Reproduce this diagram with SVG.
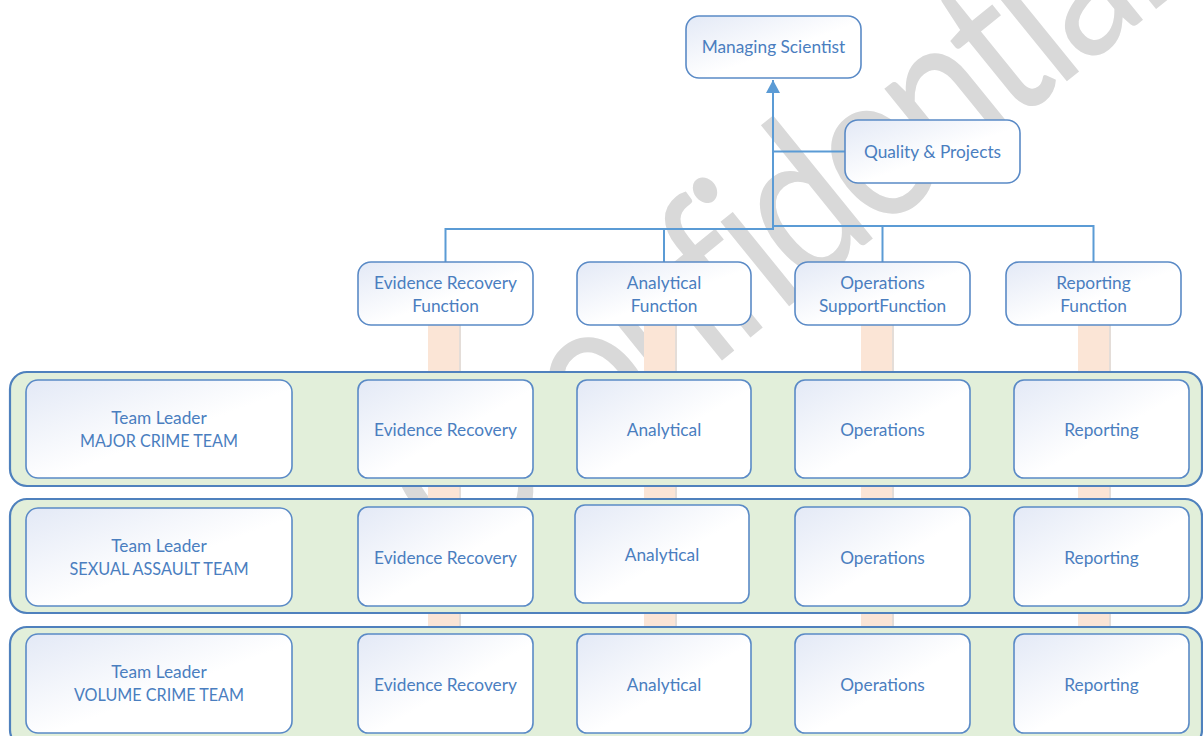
<svg xmlns="http://www.w3.org/2000/svg" width="1203" height="736" viewBox="0 0 1203 736">
<defs>
<linearGradient id="boxfill" x1="0" y1="0" x2="1" y2="1">
<stop offset="0" stop-color="#e3e9f6"/>
<stop offset="0.55" stop-color="#ffffff"/>
<stop offset="1" stop-color="#ffffff"/>
</linearGradient>
<marker id="arrow" markerWidth="14" markerHeight="14" refX="13" refY="7" orient="auto" markerUnits="userSpaceOnUse" viewBox="0 0 14 14">
<path d="M0,0 L13,7 L0,14 Z" fill="#5b9bd5"/>
</marker>
<style>
.box{fill:url(#boxfill);stroke:#5a8ac6;stroke-width:1.6}
.band{fill:#e2efda;stroke:#4f81bd;stroke-width:2.2}
.bar{fill:#fbe5d6}
.barsh{fill:#e4ddd8}
.lbl{font-family:Lato,"Open Sans","Liberation Sans",sans-serif;font-size:17.3px;fill:#4a7ebf;text-anchor:middle}
.wm{font-family:Lato,"Open Sans","Liberation Sans",sans-serif;font-size:215px;font-weight:400;fill:#d9d9d9;letter-spacing:-9px}
.con{fill:none;stroke:#5b9bd5;stroke-width:2}
</style>
</defs>
<rect width="1203" height="736" fill="#ffffff"/>
<g id="watermark">
<text class="wm" x="-80" transform="translate(509,533) rotate(-39) scale(0.82,1)">C<tspan dx="80">onfidential</tspan></text>
</g>
<g id="bars">
<rect class="bar" x="428" y="325" width="31" height="411"/><rect class="barsh" x="459" y="325" width="2" height="411"/>
<rect class="bar" x="644" y="325" width="31" height="411"/><rect class="barsh" x="675" y="325" width="2" height="411"/>
<rect class="bar" x="861" y="325" width="31" height="411"/><rect class="barsh" x="892" y="325" width="2" height="411"/>
<rect class="bar" x="1078" y="325" width="31" height="411"/><rect class="barsh" x="1109" y="325" width="2" height="411"/>
</g>
<g id="connectors">
<polyline class="con" points="445.5,262 445.5,229 773,229"/>
<line class="con" x1="664" y1="229" x2="664" y2="262"/>
<polyline class="con" points="773,226 1093.5,226 1093.5,262"/>
<line class="con" x1="882.5" y1="226" x2="882.5" y2="262"/>
<line class="con" x1="773" y1="151.5" x2="845" y2="151.5"/>
<line class="con" x1="773" y1="230" x2="773" y2="80" stroke-width="3" marker-end="url(#arrow)"/>
</g>
<g id="managing-scientist">
<rect class="box" x="686" y="16" width="175" height="62" rx="13"/>
<text class="lbl" x="773.5" y="53.3">Managing Scientist</text>
</g>
<g id="quality-projects">
<rect class="box" x="845" y="120" width="175" height="63" rx="13"/>
<text class="lbl" x="932.5" y="157.5">Quality &amp; Projects</text>
</g>
<g id="evidence-recovery-function">
<rect class="box" x="358" y="262" width="175" height="63" rx="13"/>
<text class="lbl" x="445.5" y="289">Evidence Recovery</text>
<text class="lbl" x="445.5" y="311.7">Function</text>
</g>
<g id="analytical-function">
<rect class="box" x="577" y="262" width="174" height="63" rx="13"/>
<text class="lbl" x="664" y="289">Analytical</text>
<text class="lbl" x="664" y="311.7">Function</text>
</g>
<g id="operations-support-function">
<rect class="box" x="795" y="262" width="175" height="63" rx="13"/>
<text class="lbl" x="882.5" y="289">Operations</text>
<text class="lbl" x="882.5" y="311.7">SupportFunction</text>
</g>
<g id="reporting-function">
<rect class="box" x="1006" y="262" width="175" height="63" rx="13"/>
<text class="lbl" x="1093.5" y="289">Reporting</text>
<text class="lbl" x="1093.5" y="311.7">Function</text>
</g>
<g id="major-crime-team">
<rect class="band" x="10" y="372" width="1192" height="114" rx="17"/>
<g id="mct-leader"><rect class="box" x="26" y="380" width="266" height="98" rx="12"/>
<text class="lbl" x="159" y="424.3">Team Leader</text><text class="lbl" x="159" y="447.3" textLength="158" lengthAdjust="spacingAndGlyphs">MAJOR CRIME TEAM</text></g>
<g id="mct-evidence"><rect class="box" x="358" y="380" width="175" height="98" rx="10"/><text class="lbl" x="445.5" y="435.5">Evidence Recovery</text></g>
<g id="mct-analytical"><rect class="box" x="577" y="380" width="174" height="98" rx="10"/><text class="lbl" x="664" y="435.5">Analytical</text></g>
<g id="mct-operations"><rect class="box" x="795" y="380" width="175" height="98" rx="10"/><text class="lbl" x="882.5" y="435.5">Operations</text></g>
<g id="mct-reporting"><rect class="box" x="1014" y="380" width="175" height="98" rx="10"/><text class="lbl" x="1101.5" y="435.5">Reporting</text></g>
</g>
<g id="sexual-assault-team">
<rect class="band" x="10" y="499" width="1192" height="114" rx="17"/>
<g id="sat-leader"><rect class="box" x="26" y="508" width="266" height="98" rx="12"/>
<text class="lbl" x="159" y="551.5">Team Leader</text><text class="lbl" x="159" y="574.5" textLength="179" lengthAdjust="spacingAndGlyphs">SEXUAL ASSAULT TEAM</text></g>
<g id="sat-evidence"><rect class="box" x="358" y="507" width="175" height="99" rx="10"/><text class="lbl" x="445.5" y="563.5">Evidence Recovery</text></g>
<g id="sat-analytical"><rect class="box" x="575" y="505" width="174" height="98" rx="10"/><text class="lbl" x="662" y="560.5">Analytical</text></g>
<g id="sat-operations"><rect class="box" x="795" y="507" width="175" height="99" rx="10"/><text class="lbl" x="882.5" y="563.5">Operations</text></g>
<g id="sat-reporting"><rect class="box" x="1014" y="507" width="175" height="99" rx="10"/><text class="lbl" x="1101.5" y="563.5">Reporting</text></g>
</g>
<g id="volume-crime-team">
<rect class="band" x="10" y="627" width="1192" height="120" rx="17"/>
<g id="vct-leader"><rect class="box" x="26" y="634" width="266" height="99" rx="12"/>
<text class="lbl" x="159" y="678">Team Leader</text><text class="lbl" x="159" y="701" textLength="170" lengthAdjust="spacingAndGlyphs">VOLUME CRIME TEAM</text></g>
<g id="vct-evidence"><rect class="box" x="358" y="634" width="175" height="99" rx="10"/><text class="lbl" x="445.5" y="690.5">Evidence Recovery</text></g>
<g id="vct-analytical"><rect class="box" x="577" y="634" width="174" height="99" rx="10"/><text class="lbl" x="664" y="690.5">Analytical</text></g>
<g id="vct-operations"><rect class="box" x="795" y="634" width="175" height="99" rx="10"/><text class="lbl" x="882.5" y="690.5">Operations</text></g>
<g id="vct-reporting"><rect class="box" x="1014" y="634" width="175" height="99" rx="10"/><text class="lbl" x="1101.5" y="690.5">Reporting</text></g>
</g>
</svg>
